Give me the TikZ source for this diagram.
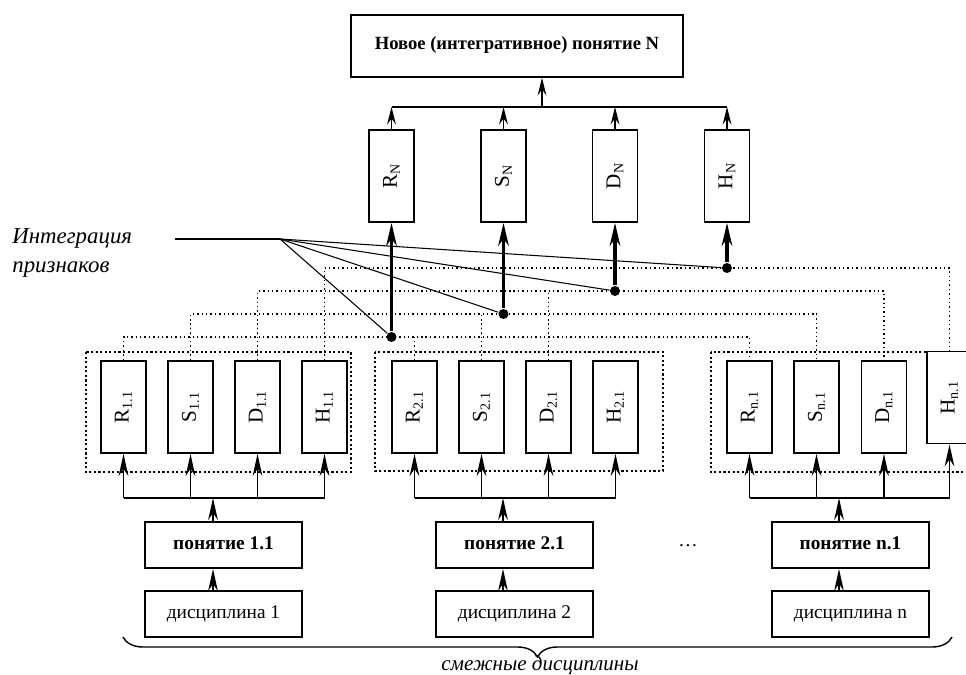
\documentclass[tikz,border=0pt]{standalone}
\usepackage{fontspec}
\setmainfont{Liberation Serif}
\usetikzlibrary{arrows.meta,decorations.pathreplacing}
\newcommand{\vlab}[1]{\rotatebox{90}{#1}}
\tikzset{
  box/.style={draw,line width=1.1pt,fill=white,inner sep=0pt},
  comp/.style={box,minimum width=0.9cm,minimum height=1.84cm,font=\fontsize{12}{14}\selectfont},
  cbox/.style={box,minimum width=3.14cm,minimum height=0.92cm,text height=8pt,text depth=2.5pt,font=\fontsize{11}{13}\selectfont},
  grp/.style={line width=1.2pt,dash pattern=on 1.2pt off 1.4pt},
  lvl/.style={line width=0.8pt,dash pattern=on 0.8pt off 1.7pt},
  dot/.style={circle,fill,inner sep=0pt,minimum size=0.2cm},
  arr/.style={-{Stealth[length=10pt,width=5pt,inset=3.5pt]}},
  tarr/.style={-{Stealth[length=13pt,width=6pt,inset=4pt]},line width=1.8pt},
  barr/.style={-{Stealth[length=12.5pt,width=5.5pt,inset=4pt]},line width=1.1pt},
}
\begin{document}
\begin{tikzpicture}[x=0.02cm,y=-0.02cm,line width=0.6pt]
        \clip (0,0) rectangle (966,675);
        % группы (пунктир)
        \draw[grp] (86,352) rectangle (351,472);
        \draw[grp] (375,352) rectangle (663,471);
        \draw[grp] (711,352) rectangle (1000,472);

        \node[box,minimum width=6.64cm,minimum height=1.24cm,font=\fontsize{10.6}{14}\selectfont\bfseries] (nov) at (517,46) {\raisebox{3pt}{Новое (интегративное) понятие N}};
        \node[comp] (rN) at (391.5,176) {\vlab{R\textsubscript{N}}};
        \node[comp] (sN) at (503.5,176) {\vlab{S\textsubscript{N}}};
        \node[comp] (dN) at (615,176) {\vlab{D\textsubscript{N}}};
        \node[comp] (hN) at (727,176) {\vlab{H\textsubscript{N}}};

        \node[comp] (r11) at (123.5,407) {\vlab{R\textsubscript{1.1}}};
        \node[comp] (s11) at (190.5,407) {\vlab{S\textsubscript{1.1}}};
        \node[comp] (d11) at (257.5,407) {\vlab{D\textsubscript{1.1}}};
        \node[comp] (h11) at (324.5,407) {\vlab{H\textsubscript{1.1}}};
        \node[comp] (r21) at (414.5,407) {\vlab{R\textsubscript{2.1}}};
        \node[comp] (s21) at (481.5,407) {\vlab{S\textsubscript{2.1}}};
        \node[comp] (d21) at (548.5,407) {\vlab{D\textsubscript{2.1}}};
        \node[comp] (h21) at (615.5,407) {\vlab{H\textsubscript{2.1}}};
        \node[comp] (rn1) at (749.5,407) {\vlab{R\textsubscript{n.1}}};
        \node[comp] (sn1) at (816.5,407) {\vlab{S\textsubscript{n.1}}};
        \node[comp] (dn1) at (884,407) {\vlab{D\textsubscript{n.1}}};
        \node[comp] (hn1) at (949.5,397.5) {\vlab{H\textsubscript{n.1}}};

        \node[cbox,font=\fontsize{11}{13}\selectfont\bfseries] (pon1) at (223.5,545) {понятие 1.1};
        \node[cbox,font=\fontsize{11}{13}\selectfont\bfseries] (pon2) at (514.5,545) {понятие 2.1};
        \node[cbox,font=\fontsize{11}{13}\selectfont\bfseries] (ponn) at (850.5,545) {понятие n.1};
        \node[cbox] (disc1) at (223.5,614) {дисциплина 1};
        \node[cbox] (disc2) at (514.5,614) {дисциплина 2};
        \node[cbox] (discn) at (850.5,614) {дисциплина n};
        \node[font=\fontsize{11}{13}\selectfont] (mnogo) at (688,546) {…};

        % шина сверху
        \coordinate (tb) at (542,107);
        \draw (rN.north |- tb) -- (hN.north |- tb);
        \draw[arr] (rN.north) -- (rN.north |- tb);
        \draw[arr] (sN.north) -- (sN.north |- tb);
        \draw[arr] (dN.north) -- (dN.north |- tb);
        \draw[arr] (hN.north) -- (hN.north |- tb);
        \draw[arr] (tb) -- (tb |- nov.south);

        % уровни признаков
        \node[dot] (jr) at (391.5,337) {};
        \node[dot] (js) at (503.5,314) {};
        \node[dot] (jd) at (615,291) {};
        \node[dot] (jh) at (727,268) {};
        \draw[lvl] (r11.north) -- (r11.north |- jr) -- (rn1.north |- jr) -- (rn1.north);
        \draw[lvl] (r21.north) -- (r21.north |- jr);
        \draw[lvl] (s11.north) -- (s11.north |- js) -- (sn1.north |- js) -- (sn1.north);
        \draw[lvl] (s21.north) -- (s21.north |- js);
        \draw[lvl] (d11.north) -- (d11.north |- jd) -- (dn1.north |- jd) -- (dn1.north);
        \draw[lvl] (d21.north) -- (d21.north |- jd);
        \draw[lvl] (h11.north) -- (h11.north |- jh) -- (hn1.north |- jh) -- (hn1.north);
        \draw[tarr] (jr) -- (rN.south);
        \draw[tarr] (js) -- (sN.south);
        \draw[tarr] (jd) -- (dN.south);
        \draw[tarr] (jh) -- (hN.south);

        % интеграция
        \node[font=\fontsize{13}{16}\selectfont\itshape,align=left,anchor=west] (integ) at (6,253) {Интеграция\\признаков};
        \coordinate (ia) at (175,239);
        \coordinate (ib) at (280,239);
        \draw (ia) -- (ib);
        \draw (ib) -- (jr);
        \draw (ib) -- (js);
        \draw (ib) -- (jd);
        \draw (ib) -- (jh);

        % нижние шины
        \coordinate (b1) at (213,498);
        \coordinate (b2) at (503,498);
        \coordinate (bn) at (839,498);
        \draw[line width=1.1pt] (r11.south |- b1) -- (h11.south |- b1);
        \draw[line width=1.1pt] (r21.south |- b2) -- (h21.south |- b2);
        \draw[line width=1.1pt] (rn1.south |- bn) -- (hn1.south |- bn);
        \draw[barr] (r11.south |- b1) -- (r11.south);
        \draw[barr] (s11.south |- b1) -- (s11.south);
        \draw[barr] (d11.south |- b1) -- (d11.south);
        \draw[barr] (h11.south |- b1) -- (h11.south);
        \draw[barr] (r21.south |- b2) -- (r21.south);
        \draw[barr] (s21.south |- b2) -- (s21.south);
        \draw[barr] (d21.south |- b2) -- (d21.south);
        \draw[barr] (h21.south |- b2) -- (h21.south);
        \draw[barr] (rn1.south |- bn) -- (rn1.south);
        \draw[barr] (sn1.south |- bn) -- (sn1.south);
        \draw[barr] (dn1.south |- bn) -- (dn1.south);
        \draw[barr] (hn1.south |- bn) -- (hn1.south);
        \draw[barr] (b1 |- pon1.north) -- (b1);
        \draw[barr] (b2 |- pon2.north) -- (b2);
        \draw[barr] (bn |- ponn.north) -- (bn);
        \draw[barr] (b1 |- disc1.north) -- (b1 |- pon1.south);
        \draw[barr] (b2 |- disc2.north) -- (b2 |- pon2.south);
        \draw[barr] (bn |- discn.north) -- (bn |- ponn.south);

        % смежные дисциплины
        \draw[line width=0.8pt,decorate,decoration={brace,mirror,amplitude=0.4cm}] (123,637) -- (952,637);
        \node[font=\fontsize{12}{14}\selectfont\itshape] (smezh) at (540,665) {смежные дисциплины};
    \end{tikzpicture}
\end{document}
